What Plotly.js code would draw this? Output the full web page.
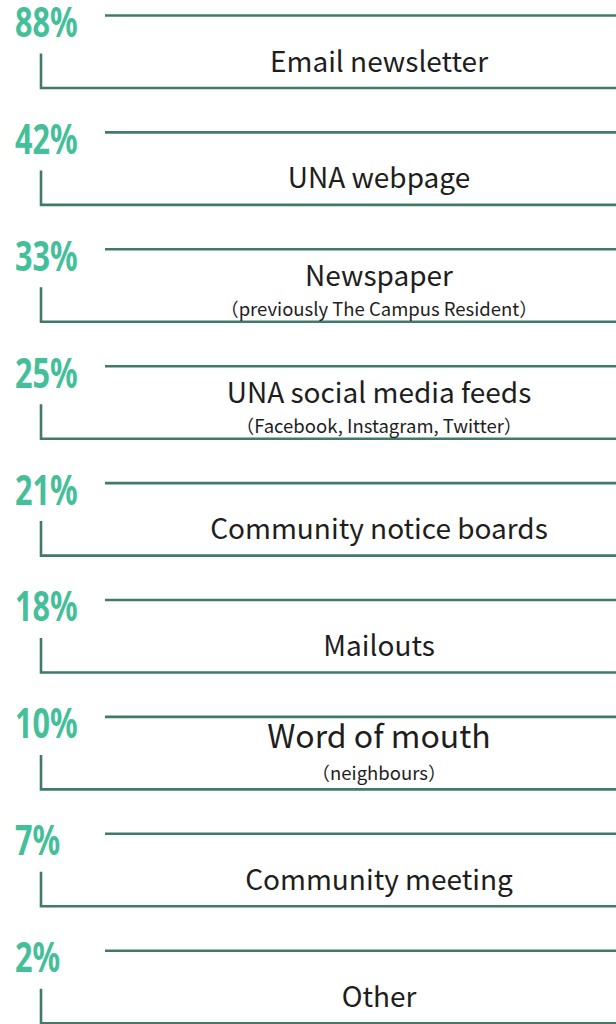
<!DOCTYPE html>
<html>
<head>
<meta charset="utf-8">
<script src="https://cdn.plot.ly/plotly-3.0.1.min.js"></script>
<style>
html,body{margin:0;padding:0;background:#fff;}
#chart{width:616px;height:1024px;}
</style>
</head>
<body>
<div id="chart"></div>
<script>
// ---- data ----
const percents = [88, 42, 33, 25, 21, 18, 10, 7, 2];
const labels = ["Email newsletter", "UNA webpage", "Newspaper", "UNA social media feeds",
  "Community notice boards", "Mailouts", "Word of mouth", "Community meeting", "Other"];
const sublabels = ["", "", "(previously The Campus Resident)", "(Facebook, Instagram, Twitter)",
  "", "", "(neighbours)", "", ""];

// ---- layout constants (pixels) ----
const W = 616, H = 1024;
const rowPx = 116.9, firstTop = 15.5;
const px = v => v / rowPx;
const lineColor = "#3f7a6b";
const pctColor = "#45bf99";
const big = "Word of mouth";

const rows = percents.map((_, i) => i);

// lines
const lx = [], ly = [];
rows.forEach(i => {
  lx.push(105, W, null); ly.push(i, i, null);
  lx.push(41, 41, W, null); ly.push(i + px(38), i + px(72.5), i + px(72.5), null);
});

const labelFont = "'Noto Sans CJK JP', 'Noto Sans', sans-serif";

const traces = [
  {type: "scatter", mode: "lines", x: lx, y: ly, hoverinfo: "skip",
   line: {color: lineColor, width: 2.6}, cliponaxis: true},
  {type: "scatter", mode: "text", x: rows.map(() => 15), y: rows.map(i => i + px(11)),
   text: percents.map(p => p + "%"), textposition: "middle right",
   textfont: {family: "'Noto Sans', sans-serif", size: 42, color: pctColor, weight: "bold"},
   hoverinfo: "skip", cliponaxis: false},
  {type: "scatter", mode: "text", x: rows.map(() => 379),
   y: rows.map(i => i + (sublabels[i] ? px(labels[i] === big ? 23 : 30) : px(49))),
   text: labels, textposition: "middle center",
   textfont: {family: labelFont,
     size: labels.map(l => l === big ? 32 : 28), color: "#1e1e1e"},
   hoverinfo: "skip", cliponaxis: false},
  {type: "scatter", mode: "text", x: rows.map(() => 379),
   y: rows.map(i => i + px(labels[i] === big ? 58 : 62)),
   text: sublabels.map(s => s.replace("(", "（").replace(")", "）")), textposition: "middle center",
   textfont: {family: labelFont, size: 18.5, color: "#1e1e1e"},
   hoverinfo: "skip", cliponaxis: false}
];

const layout = {
  width: W, height: H,
  margin: {l: 0, r: 0, t: 0, b: 0},
  paper_bgcolor: "#fff", plot_bgcolor: "#fff",
  showlegend: false,
  xaxis: {range: [0, W], visible: false, fixedrange: true},
  yaxis: {range: [(H - firstTop) / rowPx, -firstTop / rowPx], visible: false, fixedrange: true}
};

Plotly.newPlot("chart", traces, layout, {displayModeBar: false, staticPlot: true}).then(gd => {
  // condense the percentage figures horizontally
  const tr = gd.querySelectorAll(".scatterlayer .trace")[1];
  tr.querySelectorAll("text").forEach(t => {
    const x = parseFloat(t.getAttribute("x"));
    t.setAttribute("transform", `translate(${x},0) scale(0.73,1) translate(${-x},0)`);
  });
});
</script>
</body>
</html>
